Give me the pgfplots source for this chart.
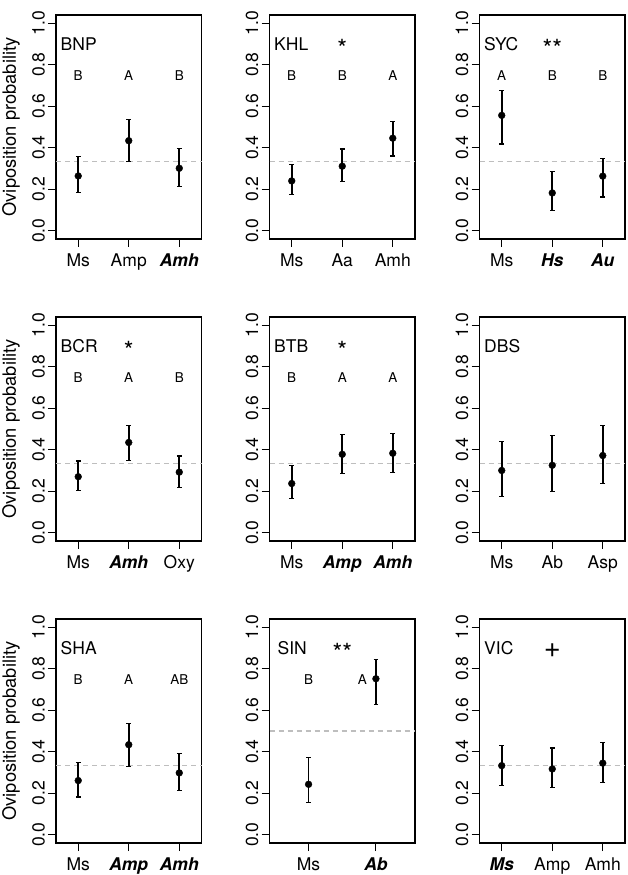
\documentclass[border=0pt]{standalone}
\usepackage{pgfplots}
\pgfplotsset{compat=1.18}
\usepackage{pgfplotstable}
\usepackage{graphicx}
\usepackage{fontspec}
\setmainfont{TeX Gyre Heros}
\definecolor{refgray}{RGB}{190,190,190}
\newcommand\ltr{\fontsize{13.5}{16}\selectfont}
\newcommand\strf{\fontsize{25}{28}\selectfont}
\newcommand\bi[1]{{\bfseries\itshape #1}}
\newcommand\rl[1]{\rotatebox{90}{#1}}

\pgfplotstableread{
x y lo hi
1 0.264 0.183 0.357
2 0.434 0.334 0.538
3 0.301 0.214 0.397
}\tBNP
\pgfplotstableread{
x y lo hi
1 0.240 0.175 0.318
2 0.311 0.238 0.394
3 0.446 0.360 0.527
}\tKHL
\pgfplotstableread{
x y lo hi
1 0.556 0.418 0.677
2 0.182 0.099 0.284
3 0.263 0.162 0.347
}\tSYC
\pgfplotstableread{
x y lo hi
1 0.270 0.202 0.346
2 0.435 0.349 0.517
3 0.292 0.218 0.370
}\tBCR
\pgfplotstableread{
x y lo hi
1 0.237 0.165 0.323
2 0.378 0.284 0.472
3 0.383 0.289 0.478
}\tBTB
\pgfplotstableread{
x y lo hi
1 0.300 0.176 0.438
2 0.325 0.200 0.468
3 0.372 0.237 0.515
}\tDBS
\pgfplotstableread{
x y lo hi
1 0.261 0.182 0.350
2 0.434 0.329 0.536
3 0.298 0.212 0.392
}\tSHA
\pgfplotstableread{
x y lo hi
1 0.243 0.154 0.372
2 0.752 0.629 0.843
}\tSIN
\pgfplotstableread{
x y lo hi
1 0.333 0.238 0.431
2 0.317 0.229 0.418
3 0.345 0.253 0.446
}\tVIC

\pgfplotsset{
  panel/.style={
    scale only axis, width=145.5pt, height=224pt,
    anchor=south west,
    xmin=0.56, xmax=3.44, ymin=-0.04, ymax=1.04,
    axis line style={line width=1.1pt},
    every tick/.style={line width=1.1pt, black},
    tick align=outside, major tick length=8pt,
    xtick pos=left, ytick pos=left,
    xtick={1,2,3},
    ytick={0,0.2,0.4,0.6,0.8,1},
    yticklabels={\rl{0.0},\rl{0.2},\rl{0.4},\rl{0.6},\rl{0.8},\rl{1.0}},
    yticklabel style={anchor=east, inner sep=0pt},
    xticklabel style={anchor=base, inner sep=0pt},
    yticklabel shift=3pt, xticklabel shift=19.7pt,
    clip=false,
  },
  pts/.style={black, mark=*, mark size=3.4pt, only marks,
    error bars/.cd, y dir=both, y explicit,
    error bar style={line width=1.6pt, black},
    error mark options={rotate=90, black, line width=1.2pt, mark size=2.3pt}},
  ref/.style={refgray, line width=1.1pt, dash pattern=on 5pt off 4pt, forget plot},
}
\newcommand\pts[1]{\addplot[pts] table[x=x, y=y, y error plus expr=\thisrow{hi}-\thisrow{y}, y error minus expr=\thisrow{y}-\thisrow{lo}] {#1};}
\newcommand\ylab{\node[rotate=90, anchor=base, font=\fontsize{18.3}{22}\selectfont] at ([xshift=-40pt]rel axis cs:0,0.5) {Oviposition probability};}

\begin{document}
\begin{tikzpicture}[font=\fontsize{17.5}{21}\selectfont]
\useasboundingbox (0,0) rectangle (628pt,875pt);

% ---------- Row 1 ----------
\begin{axis}[panel, at={(56pt,636pt)}, xticklabels={Ms,Amp,\bi{Amh}}]
\addplot[ref] coordinates {(0.56,0.3333) (3.44,0.3333)};
\pts{\tBNP}
\node[anchor=west, inner sep=0pt, xshift=2.5pt] at (axis cs:0.6,0.9) {BNP};
\node[font=\ltr] at (axis cs:1,0.75) {B};
\node[font=\ltr] at (axis cs:2,0.75) {A};
\node[font=\ltr] at (axis cs:3,0.75) {B};
\ylab
\end{axis}

\begin{axis}[panel, at={(269.5pt,636pt)}, xticklabels={Ms,Aa,Amh}]
\addplot[ref] coordinates {(0.56,0.3333) (3.44,0.3333)};
\pts{\tKHL}
\node[anchor=west, inner sep=0pt, xshift=2.5pt] at (axis cs:0.6,0.9) {KHL};
\node[font=\strf, anchor=base, inner sep=0pt, yshift=-13.8pt] at (axis cs:2,0.9) {*};
\node[font=\ltr] at (axis cs:1,0.75) {B};
\node[font=\ltr] at (axis cs:2,0.75) {B};
\node[font=\ltr] at (axis cs:3,0.75) {A};
\end{axis}

\begin{axis}[panel, at={(479.5pt,636pt)}, xticklabels={Ms,\bi{Hs},\bi{Au}}]
\addplot[ref] coordinates {(0.56,0.3333) (3.44,0.3333)};
\pts{\tSYC}
\node[anchor=west, inner sep=0pt, xshift=2.5pt] at (axis cs:0.6,0.9) {SYC};
\node[font=\strf, anchor=base, inner sep=0pt, yshift=-13.8pt] at (axis cs:2,0.9) {**};
\node[font=\ltr] at (axis cs:1,0.75) {A};
\node[font=\ltr] at (axis cs:2,0.75) {B};
\node[font=\ltr] at (axis cs:3,0.75) {B};
\end{axis}

% ---------- Row 2 ----------
\begin{axis}[panel, at={(56pt,334pt)}, xticklabels={Ms,\bi{Amh},Oxy}]
\addplot[ref] coordinates {(0.56,0.3333) (3.44,0.3333)};
\pts{\tBCR}
\node[anchor=west, inner sep=0pt, xshift=2.5pt] at (axis cs:0.6,0.9) {BCR};
\node[font=\strf, anchor=base, inner sep=0pt, yshift=-13.8pt] at (axis cs:2,0.9) {*};
\node[font=\ltr] at (axis cs:1,0.75) {B};
\node[font=\ltr] at (axis cs:2,0.75) {A};
\node[font=\ltr] at (axis cs:3,0.75) {B};
\ylab
\end{axis}

\begin{axis}[panel, at={(269.5pt,334pt)}, xticklabels={Ms,\bi{Amp},\bi{Amh}}]
\addplot[ref] coordinates {(0.56,0.3333) (3.44,0.3333)};
\pts{\tBTB}
\node[anchor=west, inner sep=0pt, xshift=2.5pt] at (axis cs:0.6,0.9) {BTB};
\node[font=\strf, anchor=base, inner sep=0pt, yshift=-13.8pt] at (axis cs:2,0.9) {*};
\node[font=\ltr] at (axis cs:1,0.75) {B};
\node[font=\ltr] at (axis cs:2,0.75) {A};
\node[font=\ltr] at (axis cs:3,0.75) {A};
\end{axis}

\begin{axis}[panel, at={(479.5pt,334pt)}, xticklabels={Ms,Ab,Asp}]
\addplot[ref] coordinates {(0.56,0.3333) (3.44,0.3333)};
\pts{\tDBS}
\node[anchor=west, inner sep=0pt, xshift=2.5pt] at (axis cs:0.6,0.9) {DBS};
\end{axis}

% ---------- Row 3 ----------
\begin{axis}[panel, at={(56pt,32pt)}, xticklabels={Ms,\bi{Amp},\bi{Amh}}]
\addplot[ref] coordinates {(0.56,0.3333) (3.44,0.3333)};
\pts{\tSHA}
\node[anchor=west, inner sep=0pt, xshift=2.5pt] at (axis cs:0.6,0.9) {SHA};
\node[font=\ltr] at (axis cs:1,0.75) {B};
\node[font=\ltr] at (axis cs:2,0.75) {A};
\node[font=\ltr] at (axis cs:3,0.75) {AB};
\ylab
\end{axis}

\begin{axis}[panel, at={(269.5pt,32pt)}, xmin=0.42, xmax=2.58, xtick={1,2}, xticklabels={Ms,\bi{Ab}}]
\addplot[ref] coordinates {(0.42,0.5) (2.58,0.5)};
\pts{\tSIN}
\node[anchor=west, inner sep=0pt, xshift=2.5pt] at (axis cs:0.5,0.9) {SIN};
\node[font=\strf, anchor=base, inner sep=0pt, yshift=-13.8pt] at (axis cs:1.5,0.9) {**};
\node[font=\ltr] at (axis cs:1,0.75) {B};
\node[font=\ltr] at (axis cs:1.8,0.75) {A};
\end{axis}

\begin{axis}[panel, at={(479.5pt,32pt)}, xticklabels={\bi{Ms},Amp,Amh}]
\addplot[ref] coordinates {(0.56,0.3333) (3.44,0.3333)};
\pts{\tVIC}
\node[anchor=west, inner sep=0pt, xshift=2.5pt] at (axis cs:0.6,0.9) {VIC};
\node[font=\fontsize{29}{32}\selectfont, anchor=base, inner sep=0pt, yshift=-9.2pt] at (axis cs:2,0.9) {+};
\end{axis}
\end{tikzpicture}
\end{document}
